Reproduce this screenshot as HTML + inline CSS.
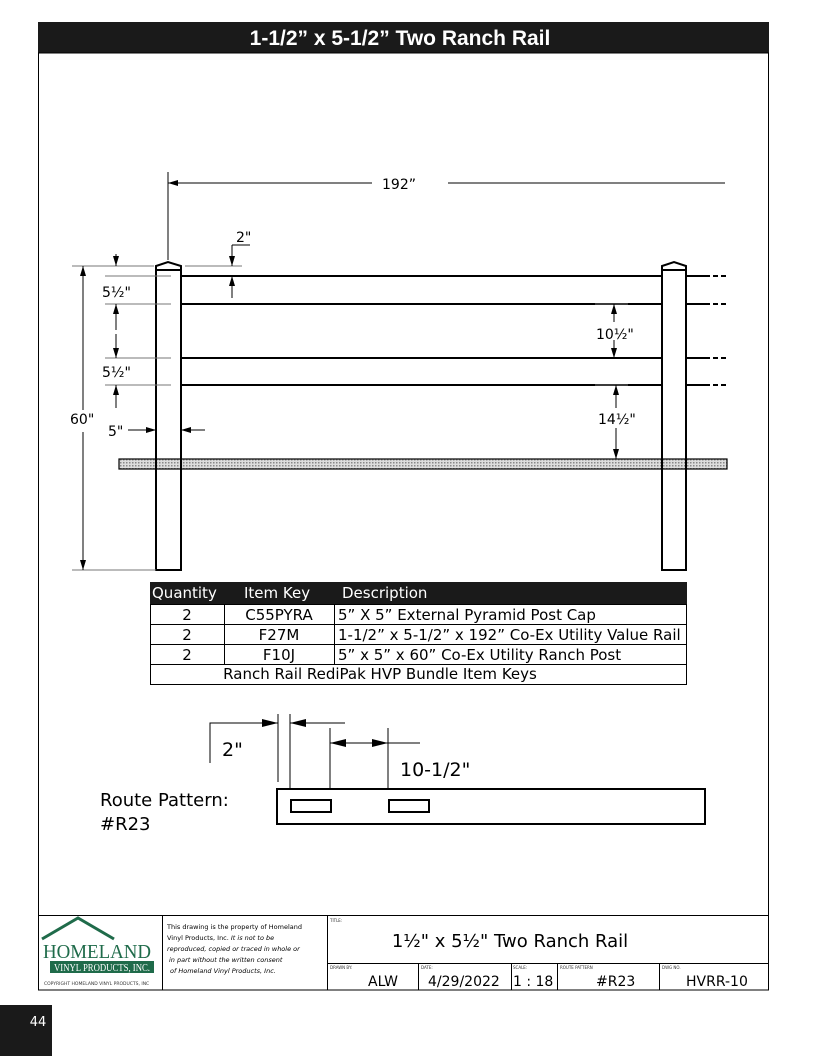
<!DOCTYPE html>
<html><head><meta charset="utf-8"><style>
body{margin:0;background:#fff;}
svg{display:block;font-family:"DejaVu Sans","Liberation Sans",sans-serif;}
</style></head><body>
<svg width="816" height="1056" viewBox="0 0 816 1056" xmlns="http://www.w3.org/2000/svg">
<defs>
<marker id="a" markerWidth="10" markerHeight="6" refX="10" refY="3" orient="auto-start-reverse" markerUnits="userSpaceOnUse"><path d="M0,0L10,3L0,6z" fill="#000"/></marker>
<marker id="b" markerWidth="16" markerHeight="8" refX="16" refY="4" orient="auto-start-reverse" markerUnits="userSpaceOnUse"><path d="M0,0L16,4L0,8z" fill="#000"/></marker>
<pattern id="h" width="3" height="3" patternUnits="userSpaceOnUse"><rect width="3" height="3" fill="#ddd"/><rect width="1.5" height="1.5" fill="#888"/></pattern>
</defs>
<!-- header -->
<rect x="38" y="22" width="731" height="31" fill="#1a1a1a"/>
<text x="400" y="45" fill="#fff" font-family="Liberation Sans" font-weight="bold" font-size="21" text-anchor="middle">1-1/2” x 5-1/2” Two Ranch Rail</text>
<rect x="38.5" y="53" width="730" height="937" fill="none" stroke="#000" stroke-width="1"/>

<!-- fence -->
<g stroke="#000" fill="none">
<g stroke-width="2">
<rect x="156" y="270" width="25" height="300" fill="#fff"/>
<rect x="662" y="270" width="24" height="300" fill="#fff"/>
<path d="M156,270 L156,266 L168,262 L181,266 L181,270 Z" fill="#fff"/>
<path d="M662,270 L662,266 L674,262 L686,266 L686,270 Z" fill="#fff"/>
<path d="M181,276H662M181,304H662M181,358H662M181,385H662"/>
<path d="M686,276H710M686,304H710M686,358H710M686,385H710"/>
<path d="M713,276H718M721,276H726M713,304H718M721,304H726M713,358H718M721,358H726M713,385H718M721,385H726"/>
</g>
<rect x="119" y="459" width="608" height="10" fill="url(#h)" stroke-width="1.2"/>
<line x1="156" y1="459" x2="156" y2="469" stroke-width="2"/><line x1="181" y1="459" x2="181" y2="469" stroke-width="2"/>
<line x1="662" y1="459" x2="662" y2="469" stroke-width="2"/><line x1="686" y1="459" x2="686" y2="469" stroke-width="2"/>
</g>

<!-- dimensions -->
<g stroke="#000" stroke-width="1" fill="none">
<line x1="168" y1="172" x2="168" y2="260"/>
<line x1="168" y1="183" x2="372" y2="183" marker-start="url(#a)"/>
<line x1="448" y1="183" x2="725" y2="183"/>
<g stroke="#777">
<line x1="72" y1="266" x2="154" y2="266"/><line x1="185" y1="266" x2="242" y2="266"/>
<line x1="72" y1="570" x2="156" y2="570"/>
<line x1="105" y1="276" x2="171" y2="276"/><line x1="105" y1="304" x2="171" y2="304"/>
<line x1="105" y1="358" x2="171" y2="358"/><line x1="105" y1="385" x2="171" y2="385"/>
<line x1="595" y1="304" x2="628" y2="304"/><line x1="595" y1="385" x2="628" y2="385"/>
</g>
<line x1="83" y1="266" x2="83" y2="410" marker-start="url(#a)"/>
<line x1="83" y1="432" x2="83" y2="570" marker-end="url(#a)"/>
<line x1="116" y1="254" x2="116" y2="266" marker-end="url(#a)"/>
<line x1="116" y1="304" x2="116" y2="330" marker-start="url(#a)"/>
<line x1="116" y1="334" x2="116" y2="358" marker-end="url(#a)"/>
<line x1="116" y1="385" x2="116" y2="408" marker-start="url(#a)"/>
<line x1="232" y1="245" x2="250" y2="245"/>
<line x1="232" y1="245" x2="232" y2="266" marker-end="url(#a)"/>
<line x1="232" y1="276" x2="232" y2="298" marker-start="url(#a)"/>
<line x1="128" y1="430" x2="156" y2="430" marker-end="url(#a)"/>
<line x1="181" y1="430" x2="205" y2="430" marker-start="url(#a)"/>
<line x1="614" y1="304" x2="614" y2="322" marker-start="url(#a)"/>
<line x1="614" y1="340" x2="614" y2="358" marker-end="url(#a)"/>
<line x1="616" y1="385" x2="616" y2="408" marker-start="url(#a)"/>
<line x1="616" y1="428" x2="616" y2="459" marker-end="url(#a)"/>
</g>
<g font-size="14" fill="#000">
<text x="382" y="189">192”</text>
<text x="236" y="242">2"</text>
<text x="102" y="297">5½"</text>
<text x="102" y="377">5½"</text>
<text x="70" y="424">60"</text>
<text x="108" y="436">5"</text>
<text x="596" y="339">10½"</text>
<text x="598" y="424">14½"</text>
</g>

<!-- table -->
<rect x="150" y="582" width="537" height="22" fill="#1a1a1a"/>
<g fill="none" stroke="#000" stroke-width="1">
<rect x="150.5" y="604.5" width="536" height="80"/>
<path d="M150,624.5H687M150,644.5H687M150,664.5H687M224.5,604V664M334.5,604V664"/>
</g>
<g font-size="15" fill="#fff"><text x="152" y="598">Quantity</text><text x="244" y="598">Item Key</text><text x="342" y="598">Description</text></g>
<g font-size="15" fill="#000">
<text x="187" y="620" text-anchor="middle">2</text><text x="279" y="620" text-anchor="middle">C55PYRA</text><text x="338" y="620">5” X 5” External Pyramid Post Cap</text>
<text x="187" y="640" text-anchor="middle">2</text><text x="279" y="640" text-anchor="middle">F27M</text><text x="338" y="640">1-1/2” x 5-1/2” x 192” Co-Ex Utility Value Rail</text>
<text x="187" y="660" text-anchor="middle">2</text><text x="279" y="660" text-anchor="middle">F10J</text><text x="338" y="660">5” x 5” x 60” Co-Ex Utility Ranch Post</text>
<text x="380" y="679" text-anchor="middle">Ranch Rail RediPak HVP Bundle Item Keys</text>
</g>

<!-- route pattern -->
<g stroke="#000" fill="none" stroke-width="1">
<path d="M210,763V723H252M314,723H345"/>
<line x1="250" y1="723" x2="278" y2="723" marker-end="url(#b)"/>
<line x1="314" y1="723" x2="290" y2="723" marker-end="url(#b)"/>
<path d="M278,714V782M290,714V789M330,728V789M388,728V789M366,743H420"/>
<line x1="330" y1="743" x2="360" y2="743" marker-start="url(#b)"/>
<line x1="358" y1="743" x2="388" y2="743" marker-end="url(#b)"/>
<rect x="277" y="789" width="428" height="35" stroke-width="2"/>
<rect x="291" y="800" width="40" height="12" stroke-width="2"/>
<rect x="389" y="800" width="40" height="12" stroke-width="2"/>
</g>
<g font-size="19" fill="#000">
<text x="222" y="756">2"</text>
<text x="400" y="776">10-1/2"</text>
<text x="100" y="806" font-size="18">Route Pattern:</text>
<text x="100" y="830" font-size="18">#R23</text>
</g>

<!-- title block -->
<g stroke="#000" fill="none" stroke-width="1">
<path d="M38,915.5H769M162.5,915V990M327.5,915V990M327,963.5H769M418.5,963V990M511.5,963V990M557.5,963V990M659.5,963V990"/>
</g>
<path d="M42,939 L78,918 L114,939" stroke="#1f6b4a" stroke-width="3" fill="none"/>
<text x="97" y="958" font-family="Liberation Serif" font-size="20" fill="#1f6b4a" text-anchor="middle" textLength="108" lengthAdjust="spacingAndGlyphs">HOMELAND</text>
<rect x="50" y="961" width="104" height="12" fill="#1f6b4a"/>
<text x="102" y="971" font-family="Liberation Serif" font-size="10" fill="#fff" text-anchor="middle" textLength="96" lengthAdjust="spacingAndGlyphs">VINYL PRODUCTS, INC.</text>
<text x="44" y="985" font-size="4.5" fill="#333">COPYRIGHT HOMELAND VINYL PRODUCTS, INC</text>
<g font-size="6.5" fill="#000">
<text x="167" y="929">This drawing is the property of Homeland</text>
<text x="167" y="940">Vinyl Products, Inc. <tspan font-style="italic">It is not to be</tspan></text>
<text x="167" y="951" font-style="italic">reproduced, copied or traced in whole or</text>
<text x="169" y="962" font-style="italic">in part without the written consent</text>
<text x="170" y="973" font-style="italic">of Homeland Vinyl Products, Inc.</text>
</g>
<g font-size="4" fill="#333"><text x="330" y="922">TITLE:</text><text x="330" y="969">DRAWN BY:</text><text x="421" y="969">DATE:</text><text x="513" y="969">SCALE:</text><text x="560" y="969">ROUTE PATTERN</text><text x="662" y="969">DWG NO.</text></g>
<text x="510" y="947" font-size="18" text-anchor="middle">1½" x 5½" Two Ranch Rail</text>
<g font-size="14"><text x="368" y="986">ALW</text><text x="428" y="986">4/29/2022</text><text x="513" y="986">1 : 18</text><text x="596" y="986">#R23</text><text x="686" y="986">HVRR-10</text></g>

<rect x="0" y="1005" width="52" height="51" fill="#1a1a1a"/>
<text x="38" y="1026" font-size="13" fill="#fff" text-anchor="middle">44</text>
</svg>
</body></html>
